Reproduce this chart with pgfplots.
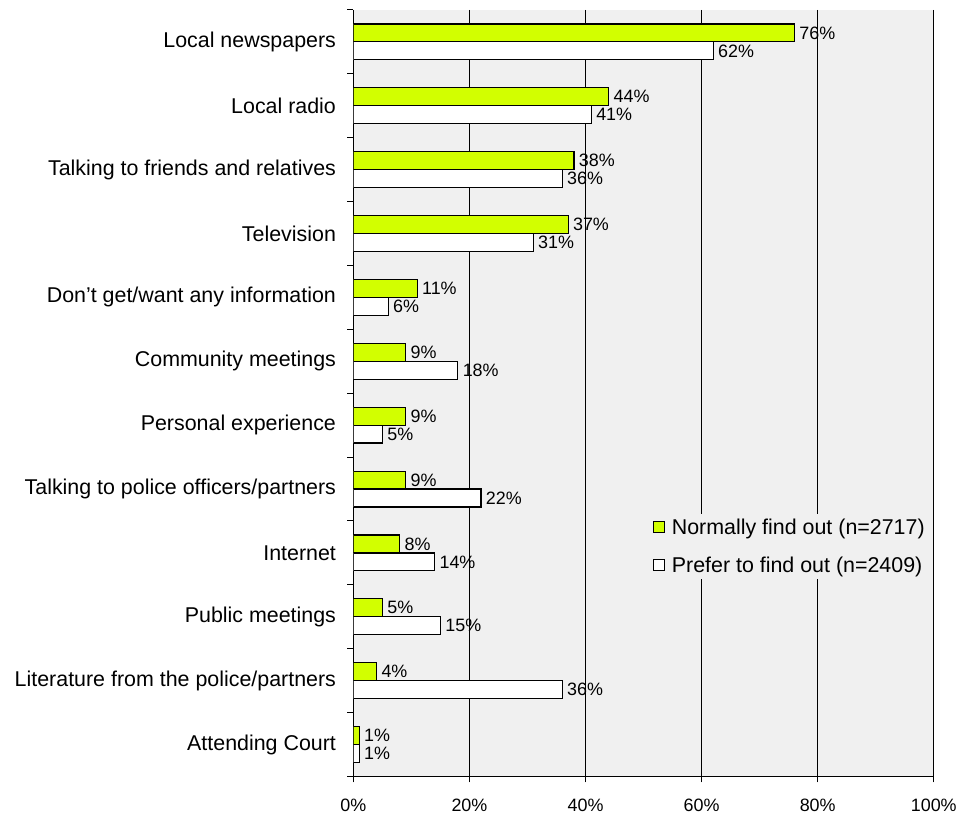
\documentclass[border=0pt]{standalone}
\usepackage{pgfplots}
\pgfplotsset{compat=1.18}
\usepackage{fontspec}
\setmainfont{Liberation Sans}
\definecolor{lime}{RGB}{210,255,0}
\definecolor{bg}{RGB}{240,240,240}
\begin{document}
\begin{tikzpicture}
\begin{axis}[
  scale only axis, width=583pt, height=770pt,
  xbar, bar width=18pt,
  xmin=0, xmax=100, ymin=-0.5, ymax=11.5, y dir=reverse,
  axis x line*=bottom, axis y line*=left,
  axis line style={black, line width=1pt},
  axis background/.style={fill=bg},
  xtick={0,20,...,100}, xmajorgrids,
  major grid style={black, line width=1pt},
  xticklabel={\pgfmathprintnumber{\tick}\%},
  /pgf/number format/assume math mode=true,
  tick align=outside, major tick length=6pt, minor tick length=6pt,
  every tick/.style={black, line width=1pt},
  every major y tick/.append style={draw=none},
  ytick={0,...,11},
  minor ytick={-0.5,0.5,...,11.5},
  yticklabels={Local newspapers, Local radio, Talking to friends and relatives, Television, Don't get/want any information, Community meetings, Personal experience, Talking to police officers/partners, Internet, Public meetings, Literature from the police/partners, Attending Court},
  xticklabel style={font=\fontsize{18}{21}\selectfont, yshift=-13pt},
  yticklabel style={font=\fontsize{21.5}{25}\selectfont, xshift=-8pt},
  point meta=x,
  nodes near coords={\pgfmathprintnumber{\pgfplotspointmeta}\%},
  every node near coord/.append style={font=\fontsize{18}{21}\selectfont, black, anchor=west, xshift=1pt},
  legend style={at={(0.995,0.343)}, anchor=north east, fill=bg, draw=none,
    font=\fontsize{21.5}{25}\selectfont, row sep=15pt, legend cell align=left,
    nodes={inner sep=3pt}},
  legend image code/.code={\draw[#1, line width=1pt] (0pt,-5.5pt) rectangle (11pt,5.5pt);},
]
\addplot[fill=lime, draw=black, line width=1.2pt, bar shift=9pt] coordinates {
(76,0) (44,1) (38,2) (37,3) (11,4) (9,5) (9,6) (9,7) (8,8) (5,9) (4,10) (1,11)};
\addplot[fill=white, draw=black, line width=1.2pt, bar shift=-9pt] coordinates {
(62,0) (41,1) (36,2) (31,3) (6,4) (18,5) (5,6) (22,7) (14,8) (15,9) (36,10) (1,11)};
\legend{\hspace{4pt}Normally find out (n=2717), \hspace{4pt}Prefer to find out (n=2409)}
\end{axis}
\path (current axis.south west) ++(-355pt,-36pt);
\path (current axis.north east) ++(22pt,10pt);
\end{tikzpicture}
\end{document}
